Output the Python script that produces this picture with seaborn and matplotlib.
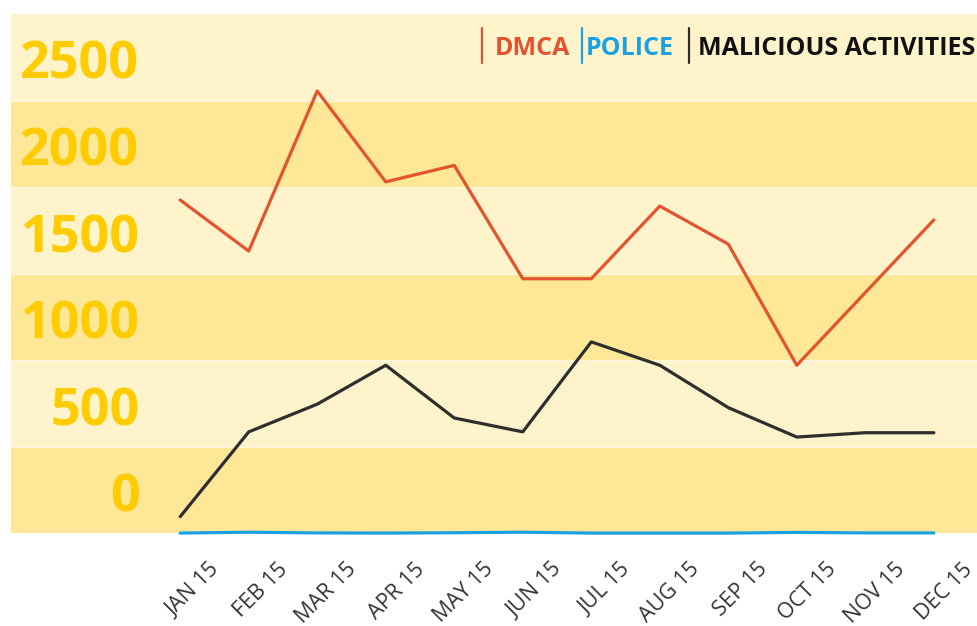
import matplotlib
matplotlib.use('Agg')
import matplotlib.pyplot as plt
import matplotlib.transforms as mtransforms
from matplotlib.lines import Line2D
import seaborn as sns
import pandas as pd

# values
months = ['JAN 15', 'FEB 15', 'MAR 15', 'APR 15', 'MAY 15', 'JUN 15',
          'JUL 15', 'AUG 15', 'SEP 15', 'OCT 15', 'NOV 15', 'DEC 15']
dmca = [1925, 1630, 2555, 2030, 2125, 1470, 1470, 1890, 1670, 970, 1390, 1810]
police = [0, 5, 1, 0, 2, 5, 0, 0, 0, 4, 1, 1]
malicious = [95, 585, 745, 970, 665, 585, 1105, 970, 725, 555, 580, 580]
y_labels = [0, 500, 1000, 1500, 2000, 2500]
band_edges = [0, 500, 1000, 1500, 2000, 2500, 3000]

series_names = ['DMCA', 'POLICE', 'MALICIOUS ACTIVITIES']
colors = {'DMCA': '#E4532F', 'POLICE': '#1BA0E1', 'MALICIOUS ACTIVITIES': '#2E2E2E'}
text_colors = {'DMCA': '#E4532F', 'POLICE': '#1BA0E1', 'MALICIOUS ACTIVITIES': '#111111'}

df = pd.DataFrame({
    'month': months * 3,
    'count': dmca + police + malicious,
    'series': [s for s in series_names for _ in months],
})

sns.set_style('white')
plt.rcParams['font.family'] = ['Open Sans', 'DejaVu Sans']

fig = plt.figure(figsize=(9.77, 6.26), dpi=100)
ax = fig.add_axes([11 / 977, 86 / 626, 966 / 977, 526 / 626])

# alternating yellow bands with a faint light seam between them
for i in range(len(band_edges) - 1):
    ax.axhspan(band_edges[i], band_edges[i + 1], lw=0, zorder=0,
               color='#FEE898' if i % 2 == 0 else '#FEF3CB')
for edge in band_edges[1:-1]:
    ax.axhline(edge, color='#FFF8E0', lw=0.8, zorder=0.5)

sns.lineplot(data=df, x='month', y='count', hue='series', hue_order=series_names,
             palette=colors, linewidth=2.3, legend=False, sort=False, ax=ax)

ax.set_xlim(-2.47, 11.63)
ax.set_ylim(-40, 3000)
ax.set_xlabel('')
ax.set_ylabel('')
for sp in ax.spines.values():
    sp.set_visible(False)

# y labels sit in the middle of each band
ax.set_yticks([v + 240 for v in y_labels])
ax.set_yticklabels([str(v) for v in y_labels], fontsize=37.5, fontweight='bold', color='#FFCC00')
ax.tick_params(axis='y', length=0, pad=-92.5)

ax.set_xticks(range(len(months)))
ax.set_xticklabels(months, fontsize=15.5, color='#333333', rotation=45,
                   ha='right', va='center', rotation_mode='anchor')
ax.tick_params(axis='x', length=0, pad=19)
shift = mtransforms.ScaledTranslation(0.36, 0, fig.dpi_scale_trans)
for lab in ax.get_xticklabels():
    lab.set_transform(lab.get_transform() + shift)

# legend at top right: coloured bar + bold label
legend_items = [('DMCA', 481.7, 495), ('POLICE', 581.7, 586), ('MALICIOUS ACTIVITIES', 689, 698)]
for name, bar_x, text_x in legend_items:
    fig.add_artist(Line2D([bar_x / 977, bar_x / 977], [(626 - 28) / 626, (626 - 63) / 626],
                          transform=fig.transFigure, color=colors[name], lw=1.6))
    fig.text(text_x / 977, (626 - 55) / 626, name, fontsize=18, fontweight='bold',
             color=text_colors[name], va='baseline', ha='left')

fig.savefig('out.png', dpi=100, facecolor='white')
